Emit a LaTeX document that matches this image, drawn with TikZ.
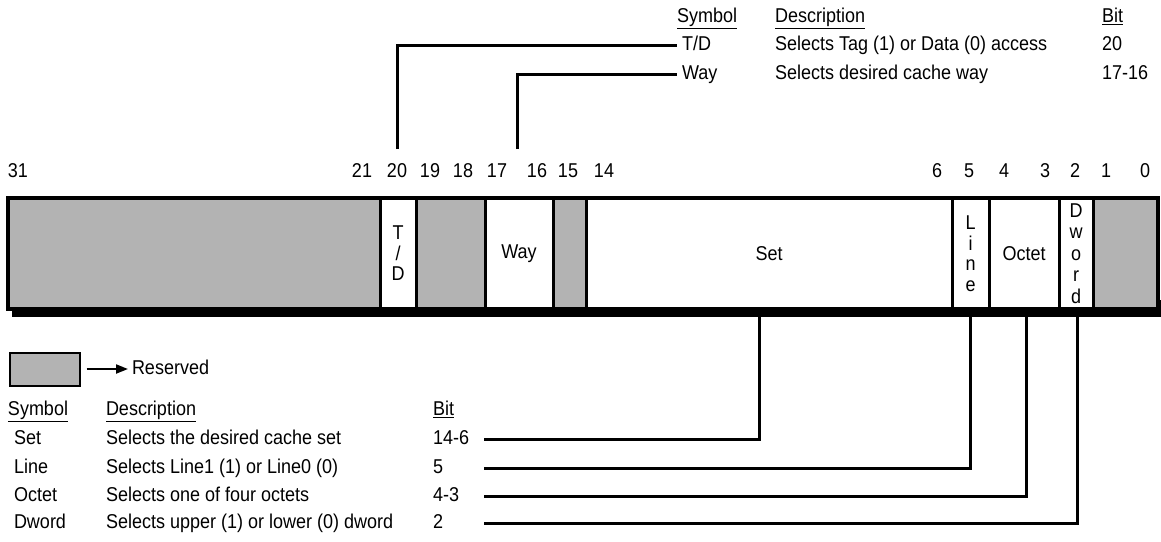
\documentclass[tikz,border=0pt]{standalone}
\usepackage{fontspec}
\setmainfont[FakeStretch=0.9]{Liberation Sans}
\usetikzlibrary{arrows.meta}
\definecolor{resgray}{RGB}{179,179,179}
\begin{document}
\begin{tikzpicture}[x=1pt,y=-1pt,
  every node/.style={font=\fontsize{20}{21}\selectfont, inner sep=0pt, outer sep=0pt},
  txt/.style={anchor=west, text height=14.5pt, text depth=4pt},
  sym/.style={txt, inner xsep=5pt},
  bitlbl/.style={anchor=center, text height=14.5pt, text depth=0pt},
  field/.style={draw=black, line width=3pt, minimum height=111pt},
  resfield/.style={field, fill=resgray},
  freefield/.style={field, fill=white},
  vtext/.style={align=center, font=\fontsize{20}{20.5}\selectfont},
  conn/.style={line width=3pt},
  arr/.style={line width=2pt, -{Triangle[length=12pt,width=9pt]}}]
\useasboundingbox (0,0) rectangle (1161,541);

% shadow of the register
\fill[black] (12,300) rectangle (1161,317);

% fields
\node[resfield, minimum width=372pt] (r1) at (194,253.5) {};
\node[freefield, minimum width=36pt, vtext] (td) at (398,253.5) {T\\/\\D};
\node[resfield, minimum width=69pt] (r2) at (450.5,253.5) {};
\node[freefield, minimum width=68pt] (way) at (519,253.5) {Way};
\node[resfield, minimum width=33pt] (r3) at (569.5,253.5) {};
\node[freefield, minimum width=366pt] (set) at (769,253.5) {Set};
\node[freefield, minimum width=37pt, vtext] (line) at (970.5,253.5) {L\\i\\n\\e};
\node[freefield, minimum width=70pt] (octet) at (1024,253.5) {Octet};
\node[freefield, minimum width=34pt, vtext, font=\fontsize{20}{21.5}\selectfont] (dword) at (1076,253.5) {D\\w\\o\\r\\d};
\node[resfield, minimum width=65pt] (r4) at (1125.5,253.5) {};
\draw[line width=4pt] (r1.north west) rectangle (r4.south east);

% bit numbers
\node[bitlbl] (b31) at (18,170) {31};
\node[bitlbl] (b21) at (362,170) {21};
\node[bitlbl] (b20) at (397,170) {20};
\node[bitlbl] (b19) at (430,170) {19};
\node[bitlbl] (b18) at (463,170) {18};
\node[bitlbl] (b17) at (497,170) {17};
\node[bitlbl] (b16) at (537,170) {16};
\node[bitlbl] (b15) at (568,170) {15};
\node[bitlbl] (b14) at (604,170) {14};
\node[bitlbl] (b6) at (937,170) {6};
\node[bitlbl] (b5) at (969,170) {5};
\node[bitlbl] (b4) at (1004,170) {4};
\node[bitlbl] (b3) at (1045,170) {3};
\node[bitlbl] (b2) at (1075,170) {2};
\node[bitlbl] (b1) at (1106,170) {1};
\node[bitlbl] (b0) at (1145,170) {0};

% upper table
\node[txt] (hsymt) at (677,17) {\underline{Symbol}};
\node[txt] (hdesct) at (775,17) {\underline{Description}};
\node[txt] (hbitt) at (1102,17) {\underline{Bit}};
\node[sym] (tdsym) at (677,45) {T/D};
\node[txt] (tddesc) at (775,45) {Selects Tag (1) or Data (0) access};
\node[txt] (tdbit) at (1102,45) {20};
\node[sym] (waysym) at (677,74) {Way};
\node[txt] (waydesc) at (775,74) {Selects desired cache way};
\node[txt] (waybit) at (1102,74) {17-16};

\coordinate (tdfoot) at (397,149);
\coordinate (wayfoot) at (517,149);
\draw[conn] (tdfoot) |- (tdsym.west);
\draw[conn] (wayfoot) |- (waysym.west);

% legend
\node[draw=black, line width=2pt, fill=resgray, minimum width=70pt, minimum height=33pt] (legbox) at (44.5,369) {};
\node[txt, inner xsep=4pt] (restext) at (128,369) {Reserved};
\draw[arr] ([xshift=7pt]legbox.east) -- (restext.west);

% lower table
\node[txt] (hsymb) at (8,410) {\underline{Symbol}};
\node[txt] (hdescb) at (106,410) {\underline{Description}};
\node[txt] (hbitb) at (433,410) {\underline{Bit}};
\node[txt] (setsym) at (14,439) {Set};
\node[txt] (setdesc) at (106,439) {Selects the desired cache set};
\node[txt] (setbit) at (433,439) {14-6};
\node[txt] (linesym) at (14,468) {Line};
\node[txt] (linedesc) at (106,468) {Selects Line1 (1) or Line0 (0)};
\node[txt] (linebit) at (433,468) {5};
\node[txt] (octsym) at (14,496) {Octet};
\node[txt] (octdesc) at (106,496) {Selects one of four octets};
\node[txt] (octbit) at (433,496) {4-3};
\node[txt] (dwsym) at (14,523) {Dword};
\node[txt] (dwdesc) at (106,523) {Selects upper (1) or lower (0) dword};
\node[txt] (dwbit) at (433,523) {2};

\coordinate (lx) at (484,0);
\draw[conn] ([xshift=-10pt]set.south) |- (setbit -| lx);
\draw[conn] (line.south) |- (linebit -| lx);
\draw[conn] ([xshift=2pt]octet.south) |- (octbit -| lx);
\draw[conn] ([xshift=1pt]dword.south) |- (dwbit -| lx);
\end{tikzpicture}
\end{document}
